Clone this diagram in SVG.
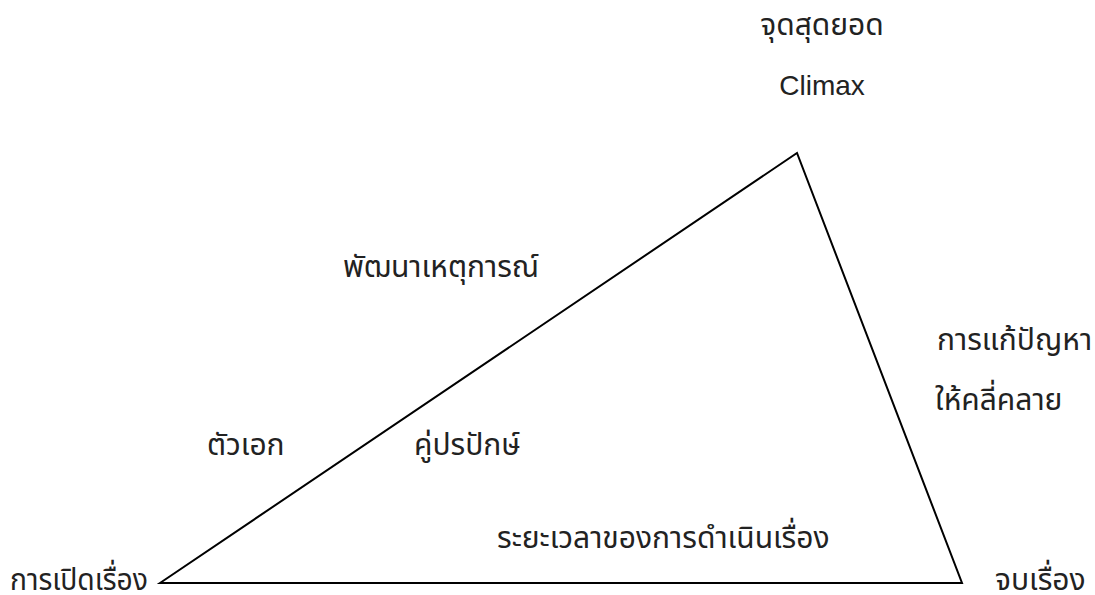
<svg xmlns="http://www.w3.org/2000/svg" width="1095" height="595" viewBox="0 0 1095 595">
<style>
.t{font-family:"Noto Sans Thai","Noto Sans","DejaVu Sans",sans-serif;font-size:30px;fill:#222}
.e{font-family:"Liberation Sans",Arial,sans-serif;font-size:28px;fill:#222}
.l{fill:none;stroke:#000;stroke-width:2}
</style>
<rect width="1095" height="595" fill="#fff"/>
<g id="connectors">
<polygon class="l" points="160,583 797,153 962,583"/>
</g>
<g id="climax-th"><text class="t" x="822" y="35" text-anchor="middle">จุดสุดยอด</text></g>
<g id="climax-en"><text class="e" x="822" y="95" text-anchor="middle">Climax</text></g>
<g id="rising"><text class="t" x="343" y="277">พัฒนาเหตุการณ์</text></g>
<g id="resolution"><text class="t" x="937" y="350">การแก้ปัญหา</text><text class="t" x="935" y="410">ให้คลี่คลาย</text></g>
<g id="protagonist"><text class="t" x="207" y="455">ตัวเอก</text></g>
<g id="antagonist"><text class="t" x="414" y="455">คู่ปรปักษ์</text></g>
<g id="timeline"><text class="t" x="497" y="548">ระยะเวลาของการดำเนินเรื่อง</text></g>
<g id="exposition"><text class="t" x="10" y="590" textLength="138" lengthAdjust="spacingAndGlyphs">การเปิดเรื่อง</text></g>
<g id="ending"><text class="t" x="995" y="590">จบเรื่อง</text></g>
</svg>
